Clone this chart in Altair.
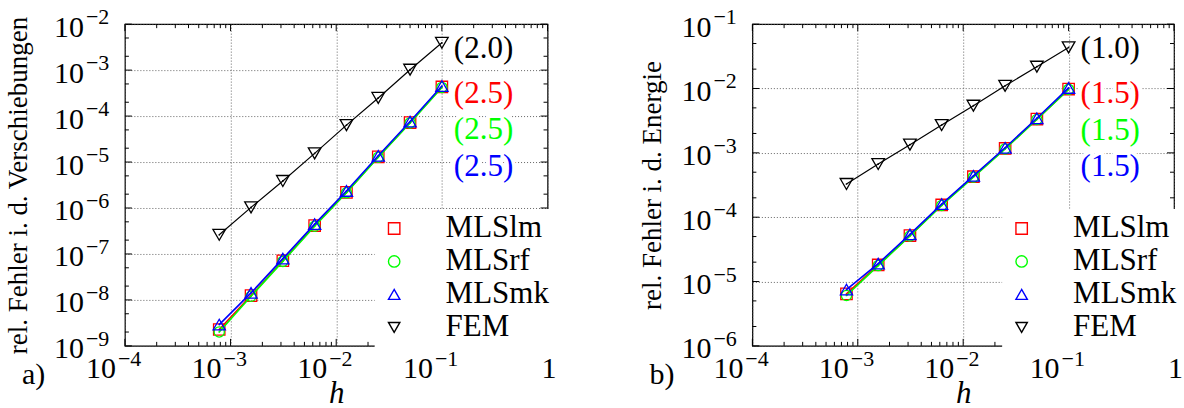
import altair as alt
import pandas as pd

FONT = "'Liberation Serif', 'Times New Roman', 'DejaVu Serif', serif"

# mesh sizes h
h = [7.8125e-4, 1.5625e-3, 3.125e-3, 6.25e-3, 1.25e-2, 2.5e-2, 5e-2, 1e-1]

series = ["MLSlm", "MLSrf", "MLSmk", "FEM"]
colors = ["#ff0000", "#00ff00", "#0000ff", "#000000"]
shapes = ["square", "circle", "triangle-up", "triangle-down"]
sizes = [130, 105, 150, 160]

# panel a) relative error in displacements
a_lm = [2.27e-9, 1.24e-8, 7.11e-8, 4.15e-7, 2.19e-6, 1.30e-5, 7.23e-5, 4.3e-4]
a_rf = [2.01e-9, 1.20e-8, 6.90e-8, 4.00e-7, 2.14e-6, 1.27e-5, 7.10e-5, 4.2e-4]
a_mk = [2.91e-9, 1.42e-8, 7.90e-8, 4.45e-7, 2.35e-6, 1.37e-5, 7.60e-5, 4.5e-4]
a_fem = [2.61e-7, 1.03e-6, 3.87e-6, 1.54e-5, 6.35e-5, 2.48e-4, 1.02e-3, 3.93e-3]
a_rates = ["(2.5)", "(2.5)", "(2.5)", "(2.0)"]
a_rate_anchor = [3.08e-4, 4.94e-5, 7.9e-6, 2.91e-3]
a_y_exp = ["−9", "−8", "−7", "−6", "−5", "−4", "−3", "−2"]

# panel b) relative error in energy
b_lm = [6.42e-6, 1.81e-5, 5.18e-5, 1.55e-4, 4.26e-4, 1.17e-3, 3.35e-3, 9.8e-3]
b_rf = [6.07e-6, 1.77e-5, 5.10e-5, 1.52e-4, 4.20e-4, 1.15e-3, 3.30e-3, 9.7e-3]
b_mk = [7.50e-6, 1.90e-5, 5.40e-5, 1.60e-4, 4.40e-4, 1.20e-3, 3.45e-3, 1.02e-2]
b_fem = [3.28e-4, 6.7e-4, 1.34e-3, 2.70e-3, 5.4e-3, 1.10e-2, 2.18e-2, 4.35e-2]
b_rates = ["(1.5)", "(1.5)", "(1.5)", "(1.0)"]
b_rate_anchor = [8.19e-3, 2.21e-3, 5.96e-4, 4.09e-2]
b_y_exp = ["−6", "−5", "−4", "−3", "−2", "−1"]

x_major = [1e-4, 1e-3, 1e-2, 1e-1, 1.0]
x_minor = [k * d for d in [1e-4, 1e-3, 1e-2, 1e-1] for k in range(2, 10)]
x_lab_vals = [1e-4, 1e-3, 1e-2, 1e-1]
x_lab_exp = ["−4", "−3", "−2", "−1"]


def panel(vals, rate_txt, rate_anchor, y_exp_min, y_exp_max, y_exp, ytitle, tag,
          W, title_pad, tag_dx, H=322):
    y_major = [10.0 ** e for e in range(y_exp_min, y_exp_max + 1)]
    y_minor = [k * 10.0 ** e for e in range(y_exp_min, y_exp_max) for k in (2, 5)]
    xs = alt.Scale(type="log", domain=[1e-4, 1.0], nice=False)
    ys = alt.Scale(type="log", domain=[10.0 ** y_exp_min, 10.0 ** y_exp_max], nice=False)
    col = alt.Scale(domain=series, range=colors)
    shp = alt.Scale(domain=series, range=shapes)

    xaxis = alt.Axis(values=x_major, labels=False, grid=True, gridDash=[1, 2],
                     gridColor="#555", gridWidth=0.9, ticks=False, domain=False,
                     title="h", titleFont=FONT, titleFontStyle="italic",
                     titleFontSize=31, titleFontWeight="normal", titleColor="black",
                     titlePadding=33)
    yaxis = alt.Axis(values=y_major, labels=False, grid=True, gridDash=[1, 2],
                     gridColor="#555", gridWidth=0.9, ticks=False, domain=False,
                     title=ytitle, titleFont=FONT, titleFontSize=27,
                     titleFontWeight="normal", titleColor="black",
                     titlePadding=title_pad)

    legend = alt.Legend(orient="none", legendX=250, legendY=185, title=None,
                        fillColor="white", padding=4, labelFont=FONT,
                        labelFontSize=31, labelColor="black", symbolSize=130,
                        symbolStrokeWidth=1.4, rowPadding=1, labelOffset=36,
                        labelLimit=0, symbolFillColor="transparent",
                        symbolOpacity=1)

    X = lambda f: alt.X(f, scale=xs, axis=xaxis)
    Y = lambda f: alt.Y(f, scale=ys, axis=yaxis)

    layers = []
    for s, c, key, sz in zip(series, colors, ["lm", "rf", "mk", "fem"], sizes):
        d = pd.DataFrame({"h": h, "err": vals[key], "method": s})
        line = alt.Chart(d).mark_line(color=c, strokeWidth=1.2 if s == "FEM" else 1.6).encode(
            x=X("h:Q"), y=Y("err:Q"))
        pts = alt.Chart(d).mark_point(filled=False, opacity=1, size=sz,
                                      strokeWidth=1.3).encode(
            x=X("h:Q"), y=Y("err:Q"),
            stroke=alt.Stroke("method:N", scale=col, legend=legend),
            shape=alt.Shape("method:N", scale=shp, legend=legend),
        )
        dots = alt.Chart(d).mark_point(filled=True, shape="circle", size=3,
                                       opacity=1, color=c).encode(
            x=X("h:Q"), y=Y("err:Q"))
        layers += [line, pts, dots]

    # inward ticks on all four sides
    def xt(v, L, top):
        return alt.Chart(pd.DataFrame({"v": v})).mark_rule(color="black", strokeWidth=1).encode(
            x=X("v:Q"), y=alt.value(0 if top else H), y2=alt.value(L if top else H - L))

    def yt(v, L, left):
        return alt.Chart(pd.DataFrame({"v": v})).mark_rule(color="black", strokeWidth=1).encode(
            y=Y("v:Q"), x=alt.value(0 if left else W), x2=alt.value(L if left else W - L))

    ticks = [xt(x_major, 7, True), xt(x_major, 7, False),
             xt(x_minor, 4, True), xt(x_minor, 4, False),
             yt(y_major, 7, True), yt(y_major, 7, False),
             yt(y_minor, 4, True), yt(y_minor, 4, False)]

    # tick labels 10^n (base + raised exponent)
    xl = pd.DataFrame({"v": x_lab_vals, "base": ["10"] * len(x_lab_vals), "exp": x_lab_exp})
    x_base = alt.Chart(xl).mark_text(align="right", baseline="alphabetic", dx=-9,
                                     font=FONT, fontSize=30, color="black").encode(
        x=X("v:Q"), y=alt.value(H + 32), text="base:N")
    x_sup = alt.Chart(xl).mark_text(align="left", baseline="alphabetic", dx=-7,
                                    font=FONT, fontSize=22, color="black").encode(
        x=X("v:Q"), y=alt.value(H + 20.5), text="exp:N")
    x_one = alt.Chart(pd.DataFrame({"v": [1.0], "t": ["1"]})).mark_text(
        align="center", baseline="alphabetic", dx=1.5, font=FONT, fontSize=30,
        color="black").encode(x=X("v:Q"), y=alt.value(H + 32), text="t:N")
    yl = pd.DataFrame({"v": y_major, "base": ["10"] * len(y_major), "exp": y_exp})
    y_base = alt.Chart(yl).mark_text(align="right", baseline="alphabetic", dy=12.5,
                                     font=FONT, fontSize=30, color="black").encode(
        x=alt.value(-41), y=Y("v:Q"), text="base:N")
    y_sup = alt.Chart(yl).mark_text(align="left", baseline="alphabetic", dy=0,
                                    font=FONT, fontSize=22, color="black").encode(
        x=alt.value(-39), y=Y("v:Q"), text="exp:N")
    tick_labels = [x_base, x_sup, x_one, y_base, y_sup]

    # convergence-rate annotations with a white halo
    rate_layers = []
    for t, yv, c in zip(rate_txt, rate_anchor, colors):
        dl = pd.DataFrame({"h": [h[-1]], "err": [yv], "txt": [t]})
        rate_layers.append(alt.Chart(dl).mark_text(
            align="left", baseline="middle", dx=12, font=FONT, fontSize=31,
            fill="white", stroke="white", strokeWidth=8).encode(
            x=X("h:Q"), y=Y("err:Q"), text="txt:N"))
        rate_layers.append(alt.Chart(dl).mark_text(
            align="left", baseline="middle", dx=12, font=FONT, fontSize=31,
            color=c).encode(x=X("h:Q"), y=Y("err:Q"), text="txt:N"))

    return alt.layer(*layers, *ticks, *tick_labels, *rate_layers).properties(
        width=W, height=H,
        title=alt.Title(tag, orient="bottom", anchor="start", frame="bounds",
                        font=FONT, fontSize=30, fontWeight="normal", color="black",
                        offset=-49, dx=tag_dx),
    )


pa = panel({"lm": a_lm, "rf": a_rf, "mk": a_mk, "fem": a_fem}, a_rates, a_rate_anchor,
           -9, -2, a_y_exp, "rel. Fehler i. d. Verschiebungen", "a)", 423, 92, 17)
pb = panel({"lm": b_lm, "rf": b_rf, "mk": b_mk, "fem": b_fem}, b_rates, b_rate_anchor,
           -6, -1, b_y_exp, "rel. Fehler i. d. Energie", "b)", 422, 86, 11)

chart = alt.hconcat(pa, pb, spacing=80).resolve_scale(
    stroke="independent", shape="independent"
).resolve_legend(stroke="independent", shape="independent").properties(
    padding={"left": 4, "top": 5, "right": 0, "bottom": 0},
    background="white",
).configure_view(stroke="black", strokeWidth=1.2)

chart.save("out.html", embed_options={"renderer": "svg", "actions": False})
